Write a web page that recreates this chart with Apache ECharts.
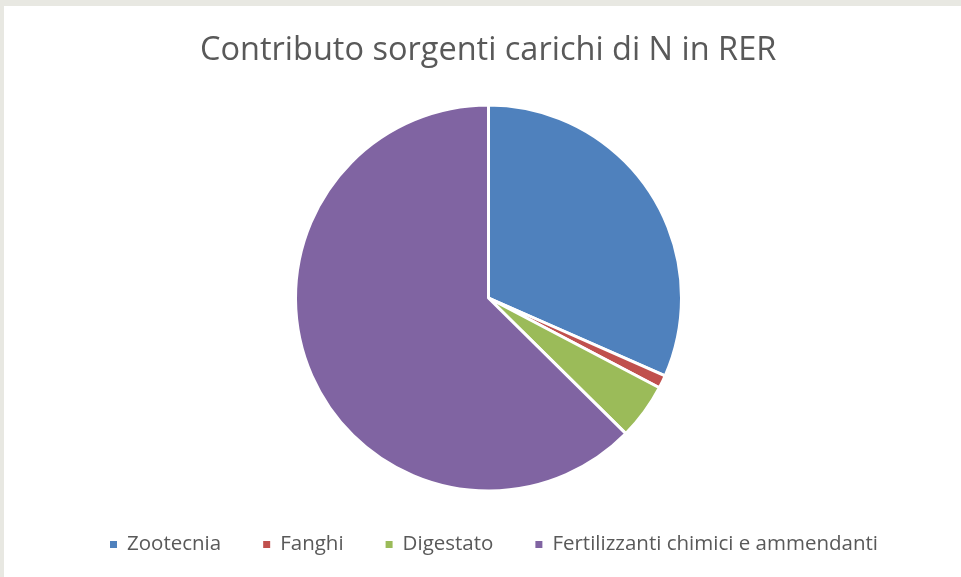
<!DOCTYPE html>
<html>
<head>
<meta charset="utf-8">
<script src="https://cdn.jsdelivr.net/npm/echarts@6/dist/echarts.min.js"></script>
<style>
  html, body { margin: 0; padding: 0; background: #e8e8e2; }
  #chart { position: absolute; left: 4px; top: 6px; width: 957px; height: 571px; background: #fff; }
</style>
</head>
<body>
<div id="chart"></div>
<script>
const categories = ['Zootecnia', 'Fanghi', 'Digestato', 'Fertilizzanti chimici e ammendanti']
const values = [31.6, 1.1, 4.7, 62.6]
const colors = ['#4f81bd', '#c0504d', '#9bbb59', '#8064a2']

const chart = echarts.init(document.getElementById('chart'))
const fontFamily = '"Open Sans", "Liberation Sans", sans-serif'

chart.setOption({
  animation: false,
  color: colors,
  title: {
    text: 'Contributo sorgenti carichi di N in RER',
    left: 191,
    top: 23,
    textStyle: {
      fontFamily: fontFamily,
      fontSize: 32.5,
      fontWeight: 'normal',
      color: '#595959'
    }
  },
  legend: {
    bottom: 17,
    left: 99,
    icon: 'rect',
    itemWidth: 9,
    itemHeight: 9,
    itemGap: 40,
    textStyle: {
      fontFamily: fontFamily,
      fontSize: 20.5,
      color: '#595959',
      padding: [0, 0, 0, 4]
    },
    data: categories
  },
  series: [
    {
      name: 'Carichi N',
      type: 'pie',
      center: [484.5, 292],
      radius: [0, 193],
      startAngle: 90,
      clockwise: true,
      label: { show: false },
      labelLine: { show: false },
      itemStyle: {
        borderColor: '#fff',
        borderWidth: 3
      },
      data: categories.map((name, i) => ({ name: name, value: values[i] }))
    }
  ]
})
</script>
</body>
</html>
